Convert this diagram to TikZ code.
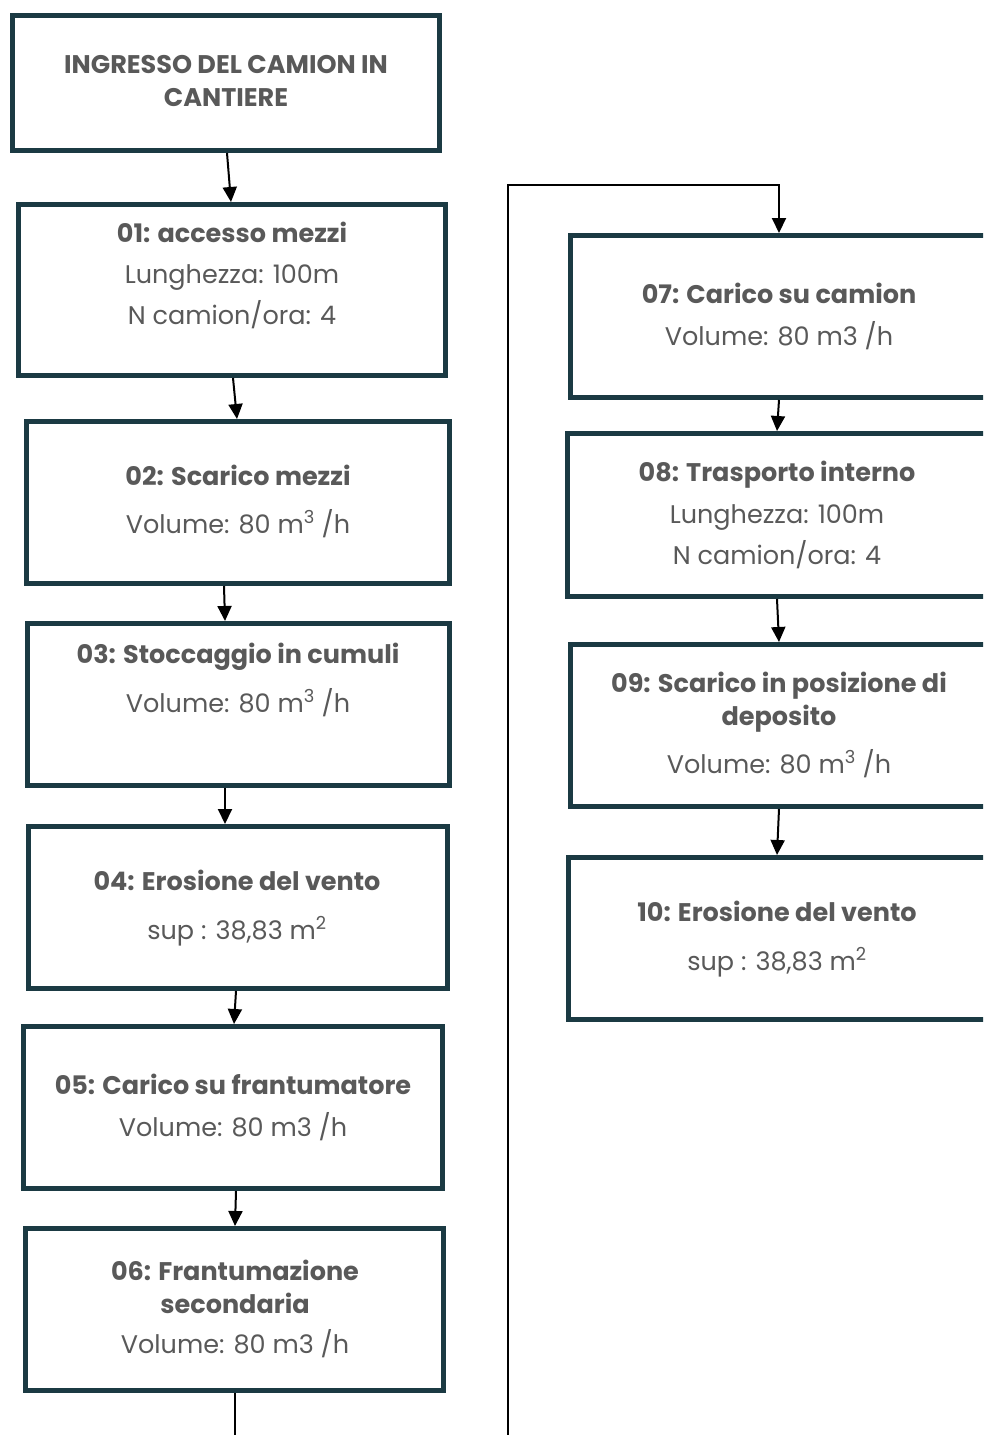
\documentclass[tikz,border=0pt]{standalone}
\usepackage{fontspec}
\setmainfont{Poppins}
\usetikzlibrary{arrows.meta}
\definecolor{boxc}{HTML}{1B3A43}
\definecolor{txtc}{HTML}{595959}
\tikzset{
  box/.style={draw=boxc, line width=5pt, fill=white, inner sep=0pt},
  ttl/.style={anchor=base, text=txtc, inner sep=0pt, font=\bfseries\fontsize{25.5}{30}\selectfont},
  bdy/.style={anchor=base, text=txtc, inner sep=0pt, font=\fontsize{25.5}{30}\selectfont},
  arr/.style={-{Triangle[length=15pt,width=14pt]}, line width=2pt, black}
}
\begin{document}
\begin{tikzpicture}[x=1pt,y=-1pt]
\useasboundingbox (0,0) rectangle (983,1435);
\clip (0,0) rectangle (983,1435);
\fill[white] (0,0) rectangle (983,1435);
% boxes
\node[box, minimum width=427pt, minimum height=135pt] (ing) at (226,83) {};
\node[box, minimum width=427pt, minimum height=171pt] (n01) at (232,290) {};
\node[box, minimum width=423pt, minimum height=162pt] (n02) at (238,502.5) {};
\node[box, minimum width=422pt, minimum height=162pt] (n03) at (238.5,704.5) {};
\node[box, minimum width=419pt, minimum height=162pt] (n04) at (238,907.5) {};
\node[box, minimum width=419pt, minimum height=162pt] (n05) at (233,1107.5) {};
\node[box, minimum width=418pt, minimum height=162pt] (n06) at (234.5,1309.5) {};
\node[box, minimum width=417pt, minimum height=162pt] (n07) at (779,316.5) {};
\node[box, minimum width=420pt, minimum height=163pt] (n08) at (777.5,515) {};
\node[box, minimum width=417pt, minimum height=162pt] (n09) at (779,725.5) {};
\node[box, minimum width=419pt, minimum height=162pt] (n10) at (778,938.5) {};
% texts
\node[ttl] (ta1) at (226,73) {INGRESSO DEL CAMION IN};
\node[ttl] (ta2) at (226,106) {CANTIERE};
\node[ttl] (t01a) at (232,242) {01: accesso mezzi};
\node[bdy] (t01b) at (232,283) {Lunghezza: 100m};
\node[bdy] (t01c) at (232,324) {N camion/ora: 4};
\node[ttl] (t02a) at (238,485) {02: Scarico mezzi};
\node[bdy] (t02b) at (238,533) {Volume: 80 m\textsuperscript{3} /h};
\node[ttl] (t03a) at (238,663) {03: Stoccaggio in cumuli};
\node[bdy] (t03b) at (238,712) {Volume: 80 m\textsuperscript{3} /h};
\node[ttl] (t04a) at (237,890) {04: Erosione del vento};
\node[bdy] (t04b) at (237,939) {sup : 38,83 m\textsuperscript{2}};
\node[ttl] (t05a) at (233,1094) {05: Carico su frantumatore};
\node[bdy] (t05b) at (233,1136) {Volume: 80 m3 /h};
\node[ttl] (t06a) at (235,1280) {06: Frantumazione};
\node[ttl] (t06b) at (235,1313) {secondaria};
\node[bdy] (t06c) at (235,1353) {Volume: 80 m3 /h};
\node[ttl] (t07a) at (779,303) {07: Carico su camion};
\node[bdy] (t07b) at (779,345) {Volume: 80 m3 /h};
\node[ttl] (t08a) at (777,481) {08: Trasporto interno};
\node[bdy] (t08b) at (777,523) {Lunghezza: 100m};
\node[bdy] (t08c) at (777,564) {N camion/ora: 4};
\node[ttl] (t09a) at (779,692) {09: Scarico in posizione di};
\node[ttl] (t09b) at (779,725) {deposito};
\node[bdy] (t09c) at (779,773) {Volume: 80 m\textsuperscript{3} /h};
\node[ttl] (t10a) at (777,921) {10: Erosione del vento};
\node[bdy] (t10b) at (777,970) {sup : 38,83 m\textsuperscript{2}};
% connectors
\draw[arr] ([xshift=1pt]ing.south) -- ([xshift=-1pt]n01.north);
\draw[arr] ([xshift=1pt]n01.south) -- ([xshift=-1pt]n02.north);
\draw[arr] ([xshift=-14pt]n02.south) -- ([xshift=-13.5pt]n03.north);
\draw[arr] ([xshift=-13.5pt]n03.south) -- ([xshift=-13pt]n04.north);
\draw[arr] ([xshift=-2pt]n04.south) -- ([xshift=1pt]n05.north);
\draw[arr] ([xshift=3pt]n05.south) -- ([xshift=0.5pt]n06.north);
\coordinate (b1) at (235,1470);
\coordinate (b2) at (508,1470);
\coordinate (b3) at (508,185);
\coordinate (b4) at (779,185);
\draw[arr, line join=miter] ([xshift=0.5pt]n06.south) -- (b1) -- (b2) -- (b3) -- (b4) -- (n07.north);
\draw[arr] (n07.south) -- ([xshift=-0.5pt]n08.north);
\draw[arr] ([xshift=-0.5pt]n08.south) -- (n09.north);
\draw[arr] (n09.south) -- ([xshift=-1pt]n10.north);
\end{tikzpicture}
\end{document}
